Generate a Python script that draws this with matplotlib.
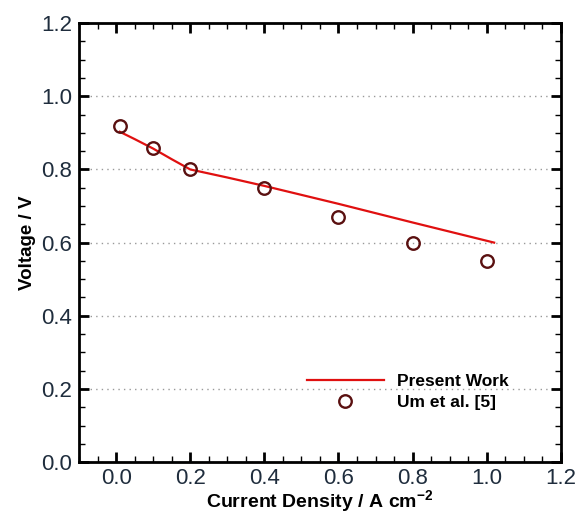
import matplotlib
matplotlib.use("Agg")
from matplotlib import pyplot as plt
from matplotlib.ticker import MultipleLocator

plt.rcParams['font.family'] = ['Liberation Sans', 'DejaVu Sans']

# model curve (Present Work)
model_x = [0.01, 0.05, 0.1, 0.15, 0.2, 0.3, 0.4, 0.6, 0.8, 1.02]
model_v = [0.903, 0.883, 0.857, 0.828, 0.800, 0.778, 0.755, 0.706, 0.655, 0.600]

# experiment (Um et al.)
exp_x = [0.01, 0.1, 0.2, 0.4, 0.6, 0.8, 1.0]
exp_v = [0.92, 0.86, 0.80, 0.75, 0.67, 0.60, 0.55]

fig = plt.figure(figsize=(5.77, 5.14), dpi=100)
ax = fig.add_axes([0.137, 0.101, 0.835, 0.854])

ax.plot(model_x, model_v, color='#e01010', lw=1.6, label='Present Work')
ax.plot(exp_x, exp_v, linestyle='none', marker='o', markersize=9, mfc='none',
        mec='#5a1010', mew=1.7, label='Um et al. [5]')

ax.set_xlim(-0.1, 1.2)
ax.set_ylim(0, 1.2)
ax.xaxis.set_major_locator(MultipleLocator(0.2))
ax.xaxis.set_minor_locator(MultipleLocator(0.05))
ax.yaxis.set_major_locator(MultipleLocator(0.2))
ax.yaxis.set_minor_locator(MultipleLocator(0.05))
ax.set_xticks([0.0, 0.2, 0.4, 0.6, 0.8, 1.0, 1.2])
ax.set_xticklabels(['0.0', '0.2', '0.4', '0.6', '0.8', '1.0', '1.2'])

ax.yaxis.grid(True, which='major', linestyle=(0, (1, 3)), color='#999999', lw=1)

for s in ax.spines.values():
    s.set_linewidth(2)
ax.tick_params(which='both', direction='in', top=True, right=True,
               labelsize=16, labelcolor='#1f2d3d')
ax.tick_params(which='major', length=7, width=2, pad=5)
ax.tick_params(which='minor', length=4, width=1)
ax.tick_params(axis='x', which='major', pad=4)

ax.set_xlabel('Current Density / A cm$^{\\mathregular{-2}}$', fontsize=14,
              fontweight='bold', labelpad=0)
ax.set_ylabel('Voltage / V', fontsize=13.5, fontweight='bold', labelpad=4)

ax.legend(loc='lower left', bbox_to_anchor=(0.459, 0.103), borderaxespad=0,
          frameon=False, prop={'weight': 'bold', 'size': 12.5}, handlelength=4.4,
          handletextpad=0.8, labelspacing=0.35)

fig.savefig('out.png', dpi=100)
